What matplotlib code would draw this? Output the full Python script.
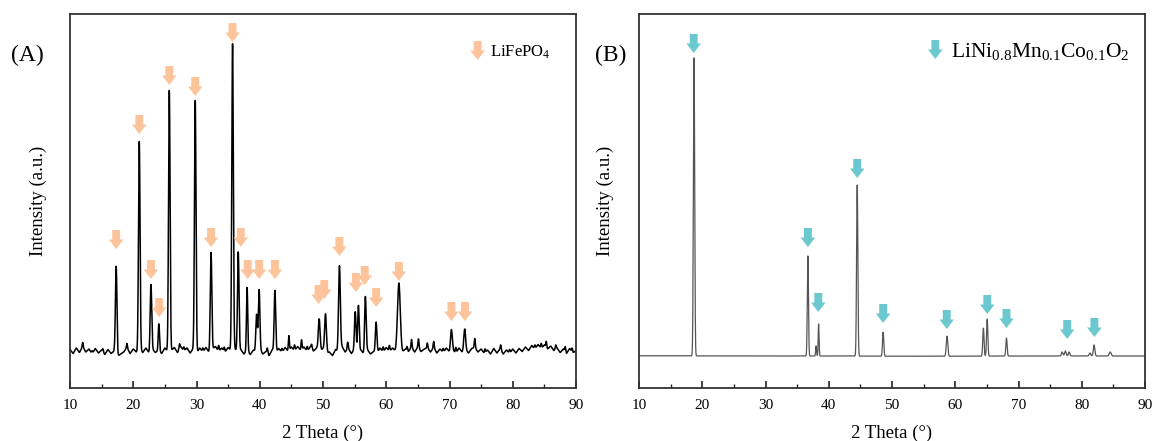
import numpy as np
import matplotlib.pyplot as plt
from matplotlib.patches import FancyArrow
from matplotlib.ticker import MultipleLocator, NullLocator

plt.rcParams['font.family'] = ['Liberation Serif', 'DejaVu Serif']
plt.rcParams['mathtext.fontset'] = 'custom'
plt.rcParams['mathtext.rm'] = 'Liberation Serif'
plt.rcParams['mathtext.it'] = 'Liberation Serif:italic'

# ---- panel A : LiFePO4 (intensity in arbitrary counts) ----
peakA_pos = [17.3, 20.95, 22.8, 24.05, 25.7, 29.8, 32.3, 35.7, 36.6, 38.0, 39.5, 39.9, 42.4,
             49.4, 50.4, 52.6, 55.1, 55.6, 56.7, 58.4, 62.0, 70.3, 72.4]
peakA_h = [880, 2080, 660, 270, 2610, 2510, 980, 3060, 1000, 630, 380, 600, 620,
           320, 390, 860, 380, 470, 560, 310, 650, 210, 210]
peakA_w = [0.12, 0.12, 0.12, 0.1, 0.12, 0.12, 0.12, 0.12, 0.12, 0.1, 0.12, 0.12, 0.12,
           0.14, 0.14, 0.14, 0.12, 0.12, 0.12, 0.12, 0.22, 0.14, 0.14]
# small bumps seen on the noisy background
bumpA_pos = [12.0, 13.5, 15.2, 19.0, 27.3, 28.0, 31.0, 33.5, 34.4, 41.2, 43.5, 44.6, 45.5,
             46.6, 47.5, 48.2, 53.9, 59.5, 60.5, 63.3, 64.0, 65.1, 66.5, 67.5, 69.0, 71.0,
             74.0, 75.6, 78.1, 79.5, 83.5, 84.5, 85.3, 86.8, 88.3, 89.4]
bumpA_h = [40, 30, 30, 40, 50, 40, 40, 60, 40, 50, 40, 150, 60,
           100, 50, 40, 70, 50, 60, 40, 80, 90, 50, 60, 40, 60,
           90, 40, 50, 40, 40, 50, 60, 40, 50, 40]
# background read every 0.5 degree from 10 to 90
baseA = [385, 345, 400, 355, 415, 360, 390, 340, 395, 350, 380, 335, 385, 345, 370, 315,
         340, 360, 405, 345, 390, 360, 395, 355, 400, 350, 390, 355, 375, 345, 400, 360,
         375, 405, 355, 415, 370, 400, 350, 395, 345, 400, 360, 405, 355, 390, 415, 365,
         400, 360, 405, 370, 400, 355, 385, 340, 375, 335, 380, 355, 390, 340, 365, 325,
         385, 350, 395, 355, 405, 365, 410, 370, 415, 375, 410, 365, 415, 370, 400, 365,
         395, 340, 360, 325, 385, 350, 415, 360, 395, 345, 390, 350, 380, 335, 385, 340,
         365, 345, 400, 360, 405, 365, 400, 365, 400, 355, 390, 365, 405, 360, 410, 365,
         390, 400, 360, 405, 350, 390, 355, 400, 360, 385, 345, 400, 360, 385, 350, 395,
         405, 360, 390, 345, 380, 340, 395, 350, 390, 340, 380, 345, 390, 350, 395, 365,
         410, 375, 425, 390, 435, 395, 430, 390, 420, 375, 400, 355, 390, 345, 395, 350,
         375]
baseA_deg = [10 + 0.5 * i for i in range(len(baseA))]
arrowA_x = [17.3, 20.95, 22.8, 24.1, 25.7, 29.8, 32.3, 35.7, 37.0, 38.1, 39.9, 42.4,
            49.3, 50.2, 52.6, 55.2, 56.6, 58.4, 62.0, 70.3, 72.45]
arrowA_y = [1390, 2540, 1090, 710, 3030, 2920, 1410, 3460, 1410, 1090, 1090, 1090,
            840, 890, 1320, 960, 1030, 810, 1070, 670, 670]

# ---- panel B : LiNi0.8Mn0.1Co0.1O2 ----
peakB_pos = [18.7, 36.7, 38.0, 38.4, 44.5, 48.6, 58.7, 64.45, 65.05, 68.1,
             76.9, 77.4, 78.0, 81.3, 81.95, 84.5]
peakB_h = [2980, 1000, 100, 320, 1710, 240, 200, 280, 370, 180,
           40, 50, 40, 30, 110, 40]
peakB_w = [0.1, 0.09, 0.07, 0.07, 0.1, 0.1, 0.12, 0.1, 0.1, 0.1,
           0.12, 0.12, 0.12, 0.12, 0.12, 0.15]
baseB_deg = [10, 20, 30, 40, 50, 60, 70, 80, 90]
baseB = [322, 321, 320, 320, 318, 318, 320, 320, 320]
arrowB_x = [18.65, 36.7, 38.35, 44.5, 48.6, 58.65, 65.07, 68.1, 77.7, 82.0]
arrowB_y = [3350, 1410, 760, 2100, 650, 590, 740, 600, 490, 510]

colA = '#fdc49b'
colB = '#6cc8cf'


def profile(x, base_x, base_y, pos, h, w):
    y = np.interp(x, base_x, base_y)
    for p, a, s in zip(pos, h, w):
        y = y + a * np.exp(-0.5 * ((x - p) / s) ** 2)
    return y


def down_arrow(ax, x, ytip, color):
    ax.add_patch(FancyArrow(x, ytip + 190, 0, -190, width=1.25, head_width=2.3,
                            head_length=95, length_includes_head=True,
                            color=color, lw=0, zorder=3))


def style(ax):
    ax.set_xlim(10, 90)
    ax.set_ylim(0, 3740)
    ax.xaxis.set_major_locator(MultipleLocator(10))
    ax.xaxis.set_minor_locator(MultipleLocator(5))
    ax.yaxis.set_major_locator(NullLocator())
    ax.tick_params(axis='x', which='both', direction='in', top=False, pad=8,
                   labelsize=11, color='#222222')
    ax.tick_params(axis='x', which='major', length=5, width=1.2)
    ax.tick_params(axis='x', which='minor', length=3, width=1.0)
    for s in ax.spines.values():
        s.set_linewidth(1.3)
        s.set_color('#333333')
    ax.set_xlabel('2 Theta (°)', fontsize=13.5)
    ax.xaxis.set_label_coords(0.5, -0.097)
    ax.set_ylabel('Intensity (a.u.)', fontsize=13.5)


x = np.arange(10, 90.001, 0.02)
yA = profile(x, baseA_deg, baseA, peakA_pos + bumpA_pos, peakA_h + bumpA_h,
             peakA_w + [0.08] * len(bumpA_pos))
yB = profile(x, baseB_deg, baseB, peakB_pos, peakB_h, peakB_w)

fig = plt.figure(figsize=(11.53, 4.41), dpi=100)
ax1 = fig.add_axes([70 / 1153, 53 / 441, 506 / 1153, 374 / 441])
ax2 = fig.add_axes([639 / 1153, 53 / 441, 506 / 1153, 374 / 441])

ax1.plot(x, yA, color='black', lw=1.1)
for xa, ya in zip(arrowA_x, arrowA_y):
    down_arrow(ax1, xa, ya, colA)
down_arrow(ax1, 74.45, 3280, colA)
ax1.text(76.4, 3360, 'LiFePO$_4$', fontsize=12, va='center', ha='left')
style(ax1)
ax1.yaxis.set_label_coords(-0.046, 0.5)

ax2.plot(x, yB, color='#555555', lw=0.9)
for xa, ya in zip(arrowB_x, arrowB_y):
    down_arrow(ax2, xa, ya, colB)
down_arrow(ax2, 56.85, 3290, colB)
ax2.text(59.3, 3370, 'LiNi$_{0.8}$Mn$_{0.1}$Co$_{0.1}$O$_2$', fontsize=15.5,
         va='center', ha='left')
style(ax2)
ax2.yaxis.set_label_coords(-0.05, 0.5)

fig.text(27 / 1153, 1 - 55 / 441, '(A)', fontsize=17, ha='center', va='center')
fig.text(611 / 1153, 1 - 55 / 441, '(B)', fontsize=17, ha='center', va='center')

fig.savefig('out.png', dpi=100)
